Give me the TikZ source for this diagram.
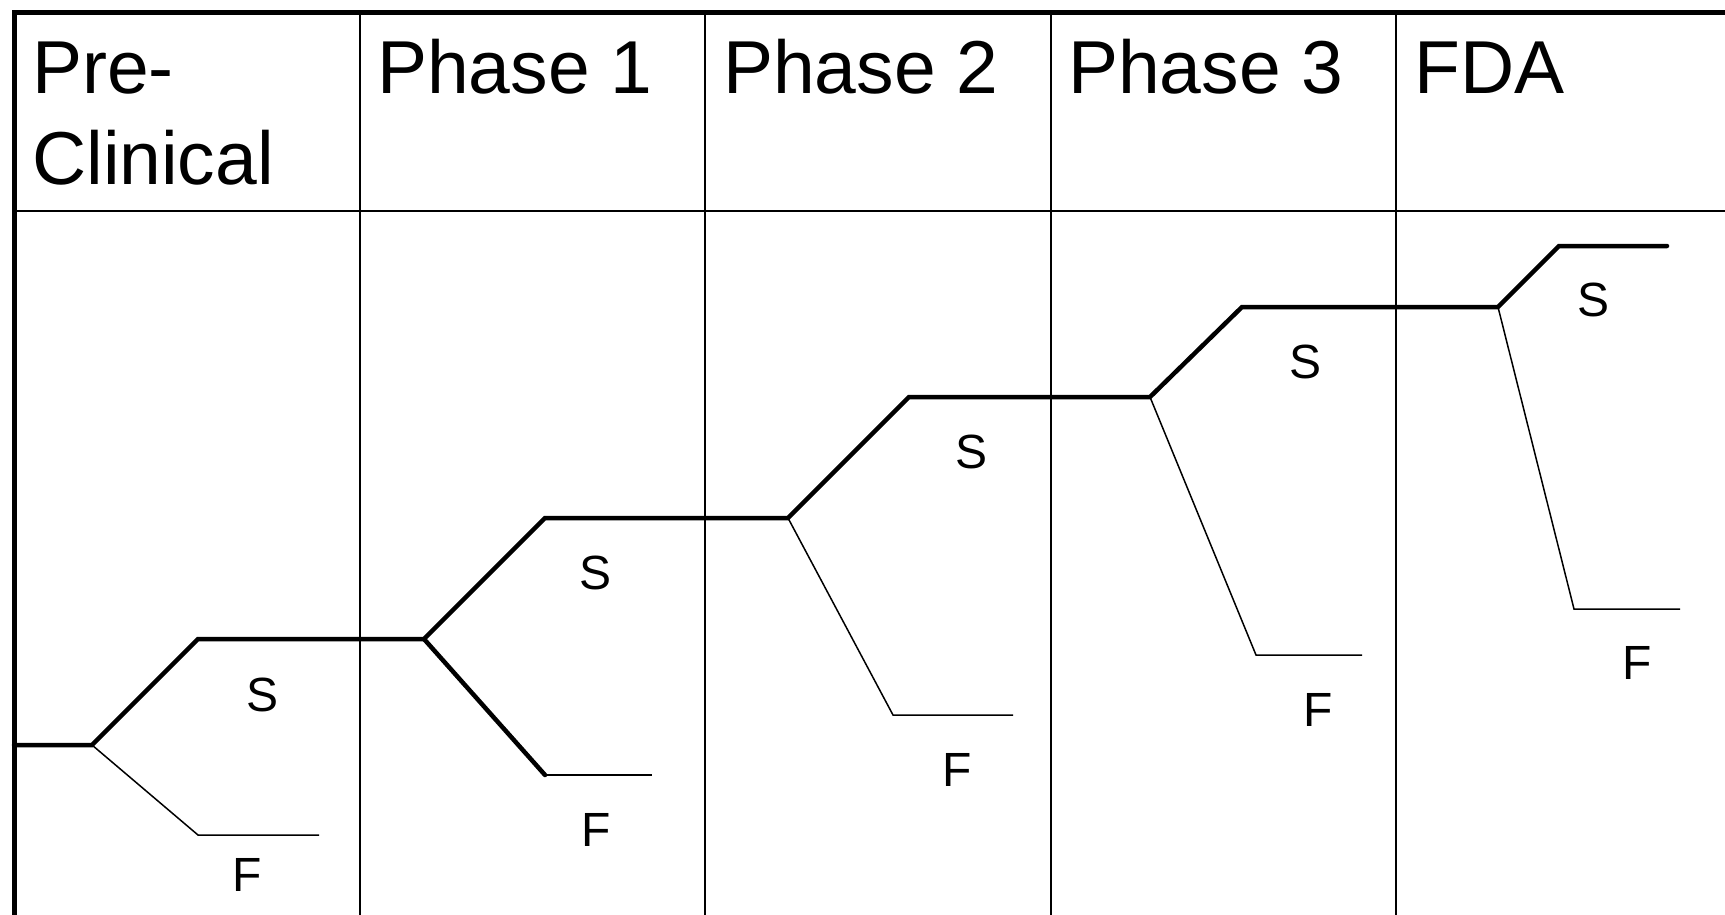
\documentclass[tikz,border=0pt]{standalone}
\usepackage{fontspec}
\setmainfont{Liberation Sans}
\begin{document}
\begin{tikzpicture}[x=1pt,y=-1pt,
  frame/.style={line width=5pt},
  grid/.style={line width=2pt},
  good/.style={line width=4.5pt, line join=miter, line cap=round},
  bad/.style={line width=1.5pt},
  head/.style={anchor=base west, inner sep=0pt, align=left,
    font=\fontsize{75}{91}\selectfont},
  lab/.style={inner sep=0pt, font=\fontsize{48}{56}\selectfont}]
\useasboundingbox (0,0) rectangle (1725,915);

% table grid: column lines and header rule
\foreach \x in {359.5,705,1050.5,1396} \draw[grid] (\x,13) -- (\x,915);
\draw[grid] (14,211) -- (1725,211);
% outer frame (left and top)
\draw[frame] (14,915) -- (14,13) -- (1725,13);

% column headings (base anchor sits on the last line)
\node[head] (h0) at (32,185) {Pre-\\Clinical};
\node[head] (h1) at (377,94) {Phase 1};
\node[head] (h2) at (723,94) {Phase 2};
\node[head] (h3) at (1068,94) {Phase 3};
\node[head] (h4) at (1414,94) {FDA};

% branch points of the decision tree
\coordinate (s0) at (14,745);
\coordinate (b1) at (92,745);
\coordinate (u1) at (198,639);
\coordinate (f1) at (198,835);  \coordinate (f1e) at (319,835);
\coordinate (b2) at (424,639);
\coordinate (u2) at (545,518);
\coordinate (f2) at (545,775);  \coordinate (f2e) at (652,775);
\coordinate (b3) at (788,518);
\coordinate (u3) at (909,397);
\coordinate (f3) at (893,715);  \coordinate (f3e) at (1013,715);
\coordinate (b4) at (1150,397);
\coordinate (u4) at (1242,307);
\coordinate (f4) at (1256,655); \coordinate (f4e) at (1362,655);
\coordinate (b5) at (1498,307);
\coordinate (u5) at (1559,246); \coordinate (u5e) at (1667,246);
\coordinate (f5) at (1574,609); \coordinate (f5e) at (1680,609);

% success path
\draw[good] (s0) -- (b1) -- (u1) -- (b2) -- (u2) -- (b3) -- (u3)
  -- (b4) -- (u4) -- (b5) -- (u5) -- (u5e);
\draw[good] (b2) -- (f2);

% failure branches
\draw[bad] (b1) -- (f1) -- (f1e);
\draw[bad] (f2) -- (f2e);
\draw[bad] (b3) -- (f3) -- (f3e);
\draw[bad] (b4) -- (f4) -- (f4e);
\draw[bad] (b5) -- (f5) -- (f5e);

% outcome labels
\node[lab] (S1) at (263,695) {S};
\node[lab] (F1) at (247,875) {F};
\node[lab] (S2) at (596,573) {S};
\node[lab] (F2) at (596,830) {F};
\node[lab] (S3) at (971,452) {S};
\node[lab] (F3) at (957,770) {F};
\node[lab] (S4) at (1305,362) {S};
\node[lab] (F4) at (1318,710) {F};
\node[lab] (S5) at (1593,300) {S};
\node[lab] (F5) at (1637,663) {F};
\end{tikzpicture}
\end{document}
